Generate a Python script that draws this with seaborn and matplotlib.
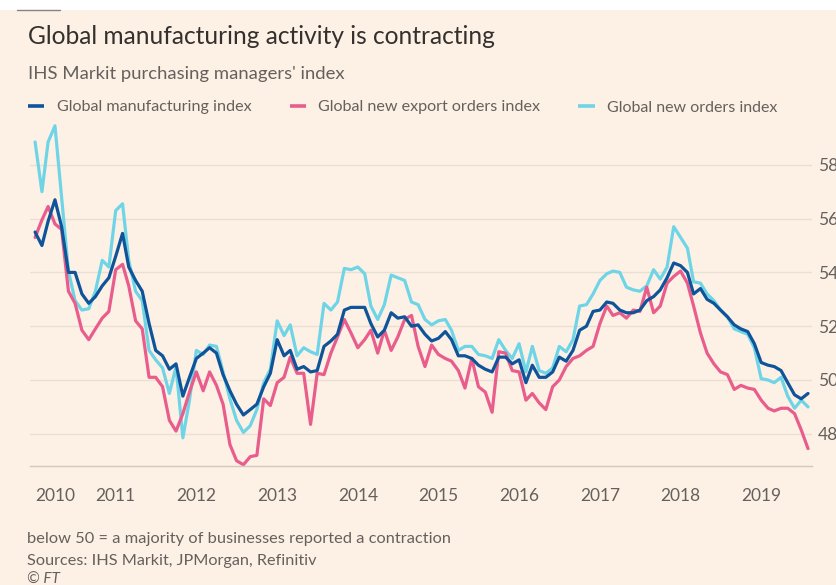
import numpy as np
import pandas as pd
import matplotlib
matplotlib.use("Agg")
import matplotlib.pyplot as plt
import matplotlib.dates as mdates
from matplotlib.lines import Line2D
from matplotlib.patches import Rectangle
import seaborn as sns

# Monthly PMI readings, Jan 2010 - Aug 2019
months = pd.date_range("2010-01-01", periods=116, freq="MS")

manufacturing = [
    55.5, 55.0, 55.9, 56.7, 55.7, 54.0, 54.0, 53.2, 52.85, 53.1, 53.5, 53.8,
    54.6, 55.45, 54.2, 53.7, 53.3, 52.1, 51.1, 50.9, 50.4, 50.6, 49.4, 50.1,
    50.8, 51.0, 51.2, 51.0, 50.2, 49.6, 49.1, 48.7, 48.9, 49.1, 49.75, 50.25,
    51.5, 50.9, 51.1, 50.4, 50.5, 50.3, 50.35, 51.25, 51.45, 51.7, 52.6, 52.7,
    52.7, 52.7, 52.1, 51.6, 51.85, 52.5, 52.3, 52.35, 52.0, 52.05, 51.7, 51.45,
    51.55, 51.8, 51.5, 50.9, 50.9, 50.8, 50.55, 50.4, 50.3, 50.85, 50.85, 50.6,
    50.75, 49.9, 50.55, 50.1, 50.1, 50.3, 50.85, 50.7, 51.1, 51.85, 52.0, 52.55,
    52.6, 52.9, 52.85, 52.6, 52.5, 52.5, 52.6, 52.95, 53.1, 53.35, 53.8, 54.35,
    54.25, 54.0, 53.2, 53.4, 53.0, 52.85, 52.6, 52.35, 52.05, 51.9, 51.8, 51.35,
    50.65, 50.55, 50.5, 50.35, 49.9, 49.45, 49.3, 49.5,
]

export_orders = [
    55.3, 55.95, 56.45, 55.8, 55.6, 53.3, 52.85, 51.85, 51.5, 51.9, 52.3, 52.55,
    54.1, 54.3, 53.5, 52.2, 51.9, 50.1, 50.1, 49.75, 48.5, 48.1, 48.75, 49.55,
    50.3, 49.6, 50.3, 49.8, 49.1, 47.6, 47.0, 46.85, 47.15, 47.2, 49.3, 49.05,
    49.9, 50.1, 50.85, 50.25, 50.25, 48.35, 50.25, 50.2, 51.0, 51.6, 52.25, 51.75,
    51.2, 51.5, 51.85, 51.0, 51.85, 51.1, 51.6, 52.25, 52.4, 51.25, 50.5, 51.3,
    50.95, 50.8, 50.7, 50.35, 49.7, 50.8, 49.75, 49.55, 48.8, 51.05, 51.0, 50.35,
    50.3, 49.25, 49.5, 49.15, 48.9, 49.75, 50.0, 50.5, 50.8, 50.9, 51.1, 51.25,
    52.1, 52.75, 52.4, 52.5, 52.3, 52.6, 52.55, 53.45, 52.5, 52.75, 53.6, 53.85,
    54.05, 53.6, 52.75, 51.75, 51.0, 50.6, 50.3, 50.2, 49.65, 49.8, 49.7, 49.65,
    49.25, 48.95, 48.85, 48.95, 48.95, 48.75, 48.15, 47.45,
]

new_orders = [
    58.85, 57.0, 58.85, 59.45, 56.8, 54.05, 52.95, 52.6, 52.65, 53.3, 54.45, 54.2,
    56.3, 56.55, 54.45, 53.3, 52.95, 51.1, 50.75, 50.45, 49.5, 50.5, 47.85, 49.25,
    51.1, 50.95, 51.3, 51.25, 50.3, 49.3, 48.5, 48.05, 48.3, 48.9, 49.9, 50.4,
    52.2, 51.65, 52.05, 50.9, 51.2, 51.05, 50.95, 52.85, 52.6, 52.9, 54.15, 54.1,
    54.2, 53.95, 52.75, 52.25, 52.8, 53.9, 53.8, 53.7, 52.9, 52.8, 52.25, 52.05,
    52.2, 52.25, 51.85, 51.1, 51.25, 51.25, 50.95, 50.9, 50.8, 51.5, 51.1, 50.8,
    51.35, 50.3, 51.25, 50.35, 50.25, 50.45, 51.25, 51.05, 51.5, 52.75, 52.8, 53.2,
    53.7, 53.95, 54.05, 54.0, 53.45, 53.35, 53.3, 53.5, 54.1, 53.75, 54.2, 55.7,
    55.3, 54.9, 53.65, 53.6, 53.2, 52.95, 52.6, 52.35, 51.9, 51.8, 51.7, 51.2,
    50.05, 50.0, 49.9, 50.1, 49.4, 48.95, 49.25, 49.0,
]

series_names = [
    "Global manufacturing index",
    "Global new export orders index",
    "Global new orders index",
]
series_colors = ["#0F5499", "#E95D8C", "#6FD5E6"]
year_labels = [str(y) for y in range(2010, 2020)]
y_ticks = [48, 50, 52, 54, 56, 58]

BG = "#FDF1E6"
TEXT_DARK = "#33302E"
TEXT_MID = "#66605C"
AXIS_COL = "#D3C8BE"
GRID_COL = "#EADFD5"

sns.set_style("white")
plt.rcParams["font.family"] = ["Lato", "DejaVu Sans"]

W, H = 837, 585
fig = plt.figure(figsize=(W / 100, H / 100), dpi=100, facecolor="white")
renderer = fig.canvas.get_renderer()


def fx(px):
    return px / W


def fy(py):
    return 1 - py / H


def fit_text(x_px, base_px, s, width_px, **kw):
    """Place text at a pixel baseline and size it to span width_px."""
    t = fig.text(fx(x_px), fy(base_px), s, fontsize=12, va="baseline", **kw)
    w = t.get_window_extent(renderer).width
    t.set_fontsize(12 * width_px / w)
    return t


# paper background with the short rule above the headline
fig.patches.append(Rectangle((0, 0), 1, fy(10), transform=fig.transFigure,
                             facecolor=BG, edgecolor="none", zorder=-10))
fig.add_artist(Line2D([fx(17), fx(60)], [fy(10), fy(10)], color="#8A827C", lw=1.0))

ax = fig.add_axes([fx(30), fy(466), fx(812) - fx(30), fy(111) - fy(466)])
ax.set_facecolor("none")

df = pd.DataFrame({
    "date": months,
    series_names[0]: manufacturing,
    series_names[1]: export_orders,
    series_names[2]: new_orders,
}).melt(id_vars="date", var_name="series", value_name="index")

palette = dict(zip(series_names, series_colors))
sns.lineplot(data=df, x="date", y="index", hue="series",
             hue_order=[series_names[2], series_names[1], series_names[0]],
             palette=palette, linewidth=2.3, legend=False, ax=ax)

ax.set_xlim(months[0] - pd.Timedelta(days=23), months[-1] + pd.Timedelta(days=18))
ax.set_ylim(50 - 86 / 26.9, 50 + 269 / 26.9)
ax.set_xlabel("")
ax.set_ylabel("")

# y axis on the right, gridlines only
ax.yaxis.tick_right()
ax.set_yticks(y_ticks)
ax.set_yticklabels([str(v) for v in y_ticks])
ax.tick_params(axis="y", length=0, pad=4.5, labelsize=12.5, labelcolor=TEXT_MID)
ax.grid(axis="y", color=GRID_COL, lw=1.0)
ax.grid(axis="x", visible=False)

for side in ["top", "left", "right"]:
    ax.spines[side].set_visible(False)
ax.spines["bottom"].set_color(AXIS_COL)
ax.spines["bottom"].set_linewidth(1.0)

# yearly labels with monthly tick marks
year_starts = pd.date_range("2010-01-01", periods=len(year_labels), freq="YS")
ax.set_xticks(year_starts)
ax.set_xticklabels(year_labels)
ax.xaxis.set_minor_locator(mdates.MonthLocator())
ax.tick_params(axis="x", which="major", direction="out", length=6.5, width=1.0,
               color=AXIS_COL, pad=9, labelsize=12.5, labelcolor=TEXT_MID)
ax.tick_params(axis="x", which="minor", direction="out", length=5, width=0.8,
               color=AXIS_COL)
ax.get_xticklabels()[0].set_horizontalalignment("left")

# headline and standfirst
fit_text(28, 43.5, "Global manufacturing activity is contracting", 467, color=TEXT_DARK)
fit_text(28, 79, "IHS Markit purchasing managers' index", 314, color=TEXT_MID)

# legend row: short colour bars followed by labels
legend_bars = [(28, 44), (290, 306), (578, 595)]
legend_text = [(57, 195), (318, 222), (607, 171)]
for (x0, x1), (tx, tw), name, col in zip(legend_bars, legend_text, series_names, series_colors):
    fig.add_artist(Line2D([fx(x0), fx(x1)], [fy(106), fy(106)], color=col, lw=2.6,
                          solid_capstyle="butt"))
    fit_text(tx, 111.5, name, tw, color=TEXT_MID)

# footnotes
fit_text(27, 543.5, "below 50 = a majority of businesses reported a contraction", 420, color=TEXT_MID)
fit_text(27, 564.5, "Sources: IHS Markit, JPMorgan, Refinitiv", 288, color=TEXT_MID)
fit_text(27, 583.5, "© FT", 33, color=TEXT_MID, style="italic")

fig.savefig("out.png", dpi=100, facecolor=fig.get_facecolor())
